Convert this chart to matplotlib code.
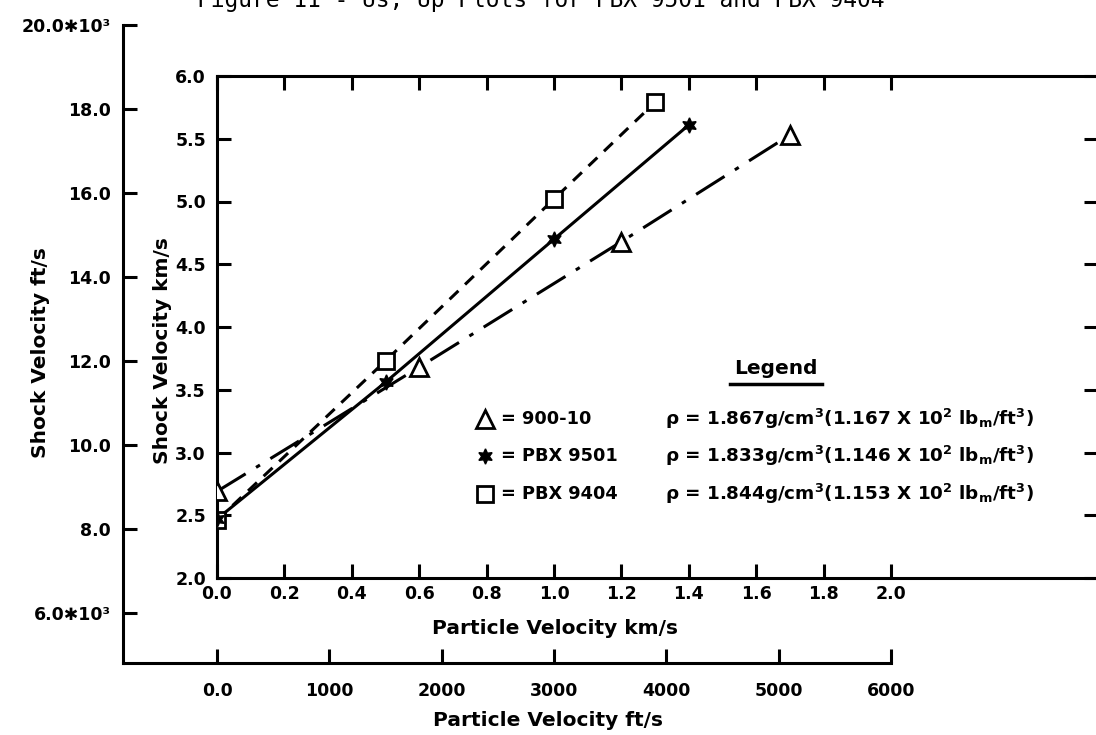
import matplotlib
matplotlib.use("Agg")
import matplotlib.pyplot as plt
from matplotlib.lines import Line2D

plt.rcParams["font.family"] = "DejaVu Sans"
plt.rcParams["font.weight"] = "bold"
plt.rcParams["mathtext.default"] = "bf"

# inner axes data (km/s)
up_90010 = [0.0, 0.6, 1.2, 1.7]
us_90010 = [2.69, 3.68, 4.68, 5.53]
up_9501 = [0.0, 0.5, 1.0, 1.4]
us_9501 = [2.47, 3.56, 4.70, 5.61]
up_9404 = [0.0, 0.5, 1.0, 1.3]
us_9404 = [2.46, 3.73, 5.02, 5.79]

km_xticks = [0.0, 0.2, 0.4, 0.6, 0.8, 1.0, 1.2, 1.4, 1.6, 1.8, 2.0]
km_xlabels = ["0.0", "0.2", "0.4", "0.6", "0.8", "1.0", "1.2", "1.4", "1.6", "1.8", "2.0"]
km_yticks = [2.0, 2.5, 3.0, 3.5, 4.0, 4.5, 5.0, 5.5, 6.0]
km_ylabels = ["2.0", "2.5", "3.0", "3.5", "4.0", "4.5", "5.0", "5.5", "6.0"]

ft_xticks = [0, 1000, 2000, 3000, 4000, 5000, 6000]
ft_xlabels = ["0.0", "1000", "2000", "3000", "4000", "5000", "6000"]
ft_yticks = [6000, 8000, 10000, 12000, 14000, 16000, 18000, 20000]
ft_ylabels = ["6.0\u273110\u00b3", "8.0", "10.0", "12.0", "14.0", "16.0", "18.0",
              "20.0\u273110\u00b3"]

legend_names = ["900-10", "PBX 9501", "PBX 9404"]
legend_rho = [
    r"$\rho$ = 1.867g/cm$^3$(1.167 X 10$^2$ lb$_m$/ft$^3$)",
    r"$\rho$ = 1.833g/cm$^3$(1.146 X 10$^2$ lb$_m$/ft$^3$)",
    r"$\rho$ = 1.844g/cm$^3$(1.153 X 10$^2$ lb$_m$/ft$^3$)",
]

W, H = 1096, 735
fig = plt.figure(figsize=(W / 100, H / 100), dpi=100)


def fx(px):
    return px / W


def fy(py):
    return 1 - py / H


LW = 2.2
TICK_FS = 12.5

# outer axes (ft/s)
ax_o = fig.add_axes([fx(123), fy(663), fx(891 - 123), (663 - 25) / H])
ax_o.patch.set_alpha(0)
ax_o.set_xlim(-837, 6000)
ax_o.set_ylim(4812, 20000)
for s in ("top", "right"):
    ax_o.spines[s].set_visible(False)
for s in ("left", "bottom"):
    ax_o.spines[s].set_linewidth(LW)
ax_o.set_xticks(ft_xticks)
ax_o.set_xticklabels(ft_xlabels)
ax_o.set_yticks(ft_yticks)
ax_o.set_yticklabels(ft_ylabels)
ax_o.tick_params(direction="in", length=10, width=LW, labelsize=TICK_FS)
ax_o.tick_params(axis="x", pad=14)
ax_o.tick_params(axis="y", pad=9)
ax_o.set_xlabel("Particle Velocity ft/s", fontsize=14.5, fontweight="bold")
ax_o.set_ylabel("Shock Velocity ft/s", fontsize=14.5, fontweight="bold")
ax_o.xaxis.set_label_coords((548 - 123) / (891 - 123), -(721 - 663) / (663 - 25))
ax_o.yaxis.set_label_coords((41 - 123) / (891 - 123), (663 - 353) / (663 - 25))
ax_o.xaxis.label.set_va("center")
ax_o.yaxis.label.set_va("center")

# inner axes (km/s)
ax = fig.add_axes([fx(217), fy(578), fx(1098 - 217), (578 - 76) / H])
ax.patch.set_alpha(0)
ax.set_xlim(0, (1098 - 217) / 337.0)
ax.set_ylim(2.0, 6.0)
for s in ax.spines.values():
    s.set_linewidth(LW)
ax.set_xticks(km_xticks)
ax.set_xticklabels(km_xlabels)
ax.set_yticks(km_yticks)
ax.set_yticklabels(km_ylabels)
ax.tick_params(direction="in", length=10, width=LW, labelsize=TICK_FS,
               top=True, right=True)
ax.tick_params(axis="x", pad=5)
ax.tick_params(axis="y", pad=8)
ax.set_xlabel("Particle Velocity km/s", fontsize=14.5, fontweight="bold")
ax.set_ylabel("Shock Velocity km/s", fontsize=14.5, fontweight="bold")
ax.xaxis.set_label_coords((555 - 217) / (1098 - 217), -(628 - 578) / (578 - 76))
ax.yaxis.set_label_coords((162 - 217) / (1098 - 217), (578 - 351) / (578 - 76))
ax.xaxis.label.set_va("center")
ax.yaxis.label.set_va("center")

ax.plot(up_90010, us_90010, color="black", lw=2.2, dashes=(11, 4, 1.5, 4), zorder=3)
ax.plot(up_90010, us_90010, ls="none", marker="^", ms=13, mfc="white", mec="black",
        mew=2, zorder=4)
ax.plot(up_9501, us_9501, color="black", lw=2.2, zorder=3)
ax.plot(up_9501, us_9501, ls="none", marker=(6, 1, 0), ms=11, mfc="black", mec="black",
        mew=1, zorder=5)
ax.plot(up_9404, us_9404, color="black", lw=2.2, dashes=(4, 3), zorder=3)
ax.plot(up_9404, us_9404, ls="none", marker="s", ms=12, mfc="white", mec="black",
        mew=2, zorder=4)

# legend block
fig.text(fx(776), fy(369), "Legend", fontsize=14.5, fontweight="bold",
         ha="center", va="center")
fig.add_artist(Line2D([fx(730), fx(822)], [fy(384), fy(384)], color="black", lw=2.5))

rows_y = [419, 456, 494]
markers = [
    dict(marker="^", ms=13, mfc="white", mec="black", mew=2),
    dict(marker=(6, 1, 0), ms=11, mfc="black", mec="black", mew=1),
    dict(marker="s", ms=12, mfc="white", mec="black", mew=2),
]
for y, name, rho, mk in zip(rows_y, legend_names, legend_rho, markers):
    fig.add_artist(Line2D([fx(485)], [fy(y)], ls="none", **mk))
    fig.text(fx(501), fy(y), "= " + name, fontsize=12.8, fontweight="bold",
             ha="left", va="center")
    fig.text(fx(665), fy(y), rho, fontsize=13.2, fontweight="bold",
             ha="left", va="center")

# title, cut off at the top edge as in the scan
fig.text(fx(541), fy(7), "Figure 11 - Us, Up Plots for PBX 9501 and PBX 9404",
         family="DejaVu Sans Mono", fontweight="normal", fontsize=16.5,
         ha="center", va="baseline")

fig.savefig("out.png", dpi=100)
